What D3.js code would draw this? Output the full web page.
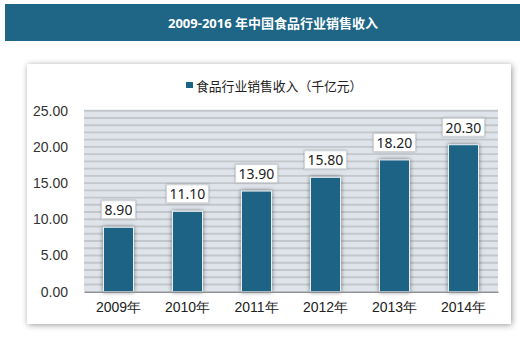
<!DOCTYPE html>
<html><head><meta charset="utf-8">
<script src="https://cdn.jsdelivr.net/npm/d3@7"></script>
<style>
html,body{margin:0;padding:0;background:#fff;}
svg{display:block;font-family:"Noto Sans","Noto Sans CJK SC",sans-serif;}
</style></head>
<body><svg id="c" width="520" height="339"></svg>
<script>
const title = "2009-2016 年中国食品行业销售收入";
const seriesName = "食品行业销售收入（千亿元）";
const categories = ["2009年","2010年","2011年","2012年","2013年","2014年"];
const values = [8.90, 11.10, 13.90, 15.80, 18.20, 20.30];
const yTicks = [0, 5, 10, 15, 20, 25];

const svg = d3.select("#c");
const defs = svg.append("defs");
const cardShadow = defs.append("filter").attr("id","cardShadow").attr("x","-10%").attr("y","-10%").attr("width","120%").attr("height","120%");
cardShadow.append("feDropShadow").attr("dx",1).attr("dy",1).attr("stdDeviation",3).attr("flood-color","#000").attr("flood-opacity",0.4);
const barShadow = defs.append("filter").attr("id","barShadow").attr("x","-50%").attr("y","-10%").attr("width","200%").attr("height","120%");
barShadow.append("feDropShadow").attr("dx",0).attr("dy",0).attr("stdDeviation",2.2).attr("flood-color","#000").attr("flood-opacity",0.55);
const lblShadow = defs.append("filter").attr("id","lblShadow").attr("x","-20%").attr("y","-20%").attr("width","140%").attr("height","140%");
lblShadow.append("feDropShadow").attr("dx",0).attr("dy",0).attr("stdDeviation",0.8).attr("flood-color","#000").attr("flood-opacity",0.3);

const barColor = "#1b6385";

// header band
svg.append("rect").attr("x",5).attr("y",4).attr("width",515).attr("height",37).attr("fill","#1e6586");
svg.append("text").attr("x",273).attr("y",22.5).attr("text-anchor","middle").attr("dominant-baseline","central")
  .attr("fill","#fff").attr("font-weight","bold").attr("font-size",13).text(title);

// card
svg.append("rect").attr("x",27).attr("y",64).attr("width",484).attr("height",260).attr("fill","#fff").attr("filter","url(#cardShadow)");

// legend
svg.append("rect").attr("x",186).attr("y",82).attr("width",7).attr("height",6).attr("fill",barColor);
svg.append("text").attr("x",196).attr("y",85.5).attr("dominant-baseline","central").attr("font-size",12.8).attr("fill","#222").text(seriesName);

const pL=84, pR=498, pT=110.7, pB=291.7;
const x = d3.scaleBand().domain(categories).range([pL,pR]).paddingInner(0.565).paddingOuter(0.2825);
const y = d3.scaleLinear().domain([0,25]).range([pB,pT]);

// plot background
svg.append("rect").attr("x",pL).attr("y",pT).attr("width",pR-pL).attr("height",pB-pT).attr("fill","#dee4ea");
// gridlines every 1 unit
svg.append("g").selectAll("line").data(d3.range(1,26)).join("line")
  .attr("x1",pL).attr("x2",pR).attr("y1",d=>y(d)).attr("y2",d=>y(d))
  .attr("stroke","#c3c7cb").attr("stroke-width",1.9);

// y axis labels
const yAxis = d3.axisLeft(y).tickValues(yTicks).tickFormat(d3.format(".2f")).tickSize(0).tickPadding(16);
const ya = svg.append("g").attr("transform",`translate(${pL},0)`).call(yAxis);
ya.select(".domain").remove();
ya.selectAll("text").attr("font-size",14).attr("fill","#333").attr("font-family",null);

// bars
svg.append("g").selectAll("rect").data(values).join("rect")
  .attr("x",(d,i)=>x(categories[i])).attr("width",x.bandwidth())
  .attr("y",d=>y(d)).attr("height",d=>pB-y(d))
  .attr("fill",barColor).attr("stroke","#e8f0f4").attr("stroke-width",1)
  .attr("filter","url(#barShadow)");

// x axis
const xAxis = d3.axisBottom(x).tickSize(0).tickPadding(10);
const xa = svg.append("g").attr("transform",`translate(0,${pB})`).call(xAxis);
xa.select(".domain").attr("stroke","#8e9296").attr("stroke-width",1.5);
xa.selectAll("text").attr("font-size",14).attr("fill","#222").attr("font-family",null);

// value labels
const lg = svg.append("g");
values.forEach((v,i)=>{
  const cx = x(categories[i]) + x.bandwidth()/2;
  const t = lg.append("text").attr("x",cx).attr("y",y(v)-17.5).attr("text-anchor","middle")
    .attr("dominant-baseline","central").attr("font-size",14).attr("fill","#222").text(d3.format(".2f")(v));
  const w = t.node().getComputedTextLength();
  lg.insert("rect","text").attr("x",cx-w/2-3).attr("y",y(v)-26.5).attr("width",w+6).attr("height",18)
    .attr("fill","#fff").attr("stroke","#d0d4d8").attr("stroke-width",1).attr("filter","url(#lblShadow)");
});
</script></body></html>
